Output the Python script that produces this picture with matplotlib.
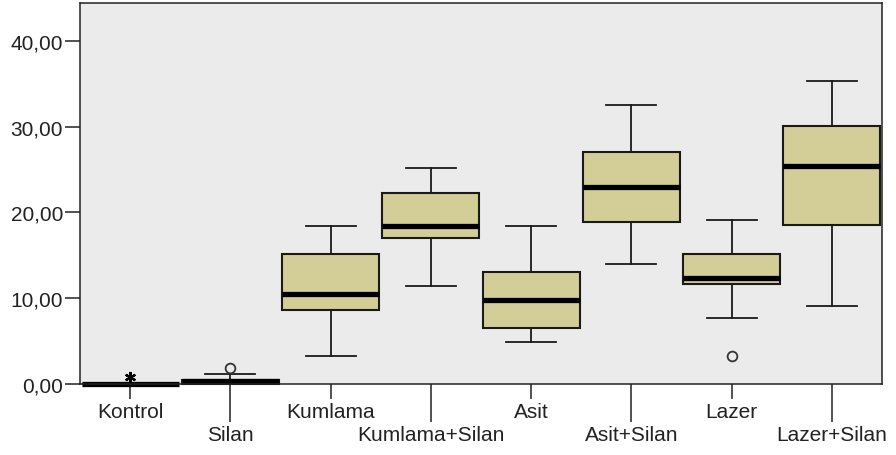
import numpy as np
import matplotlib.pyplot as plt

plt.rcParams['font.family'] = ['Liberation Sans', 'DejaVu Sans']

groups = ['Kontrol', 'Silan', 'Kumlama', 'Kumlama+Silan',
          'Asit', 'Asit+Silan', 'Lazer', 'Lazer+Silan']

# five-number summaries per group
whis_lo = [0.00, 0.00, 3.23, 11.43, 4.86, 13.99, 7.70, 9.06]
q1 = [0.00, 0.05, 8.59, 17.03, 6.49, 18.93, 11.66, 18.54]
med = [0.00, 0.30, 10.50, 18.46, 9.80, 22.94, 12.36, 25.46]
q3 = [0.00, 0.50, 15.16, 22.24, 13.06, 27.09, 15.16, 30.12]
whis_hi = [0.00, 1.17, 18.46, 25.22, 18.46, 32.50, 19.13, 35.30]

# outliers (circle) and extremes (star)
outliers = [[], [1.83], [], [], [], [], [3.30], []]
extremes = [[0.78], [], [], [], [], [], [], []]

stats = []
for i, g in enumerate(groups):
    stats.append(dict(label=g, whislo=whis_lo[i], q1=q1[i], med=med[i],
                      q3=q3[i], whishi=whis_hi[i], fliers=outliers[i]))

fig = plt.figure(figsize=(8.96, 4.56), dpi=100)
ax = fig.add_axes([80 / 896, 71 / 456, 802 / 896, 381 / 456])
ax.set_facecolor('#EBEBEB')

pos = np.arange(len(groups))
bp = ax.bxp(stats, positions=pos, widths=0.97, patch_artist=True,
            showfliers=True,
            boxprops=dict(facecolor='#D3CE97', edgecolor='#1a1a1a', linewidth=1.5),
            medianprops=dict(color='black', linewidth=3.8, solid_capstyle='butt'),
            whiskerprops=dict(color='#1a1a1a', linewidth=1.3),
            capprops=dict(color='#1a1a1a', linewidth=1.3),
            capwidths=0.5,
            flierprops=dict(marker='o', markerfacecolor='none',
                            markeredgecolor='#333333', markersize=7,
                            markeredgewidth=1.3))
for key in bp:
    for art in bp[key]:
        art.set_clip_on(False)

for i, ex in enumerate(extremes):
    if ex:
        ax.plot([pos[i]] * len(ex), ex, marker=(6, 2, 0), color='black',
                markersize=8, markeredgewidth=1.6, linestyle='none',
                clip_on=False)

ax.set_xlim(-0.5, 7.5)
ax.set_ylim(0, 44.4)

yt = [0, 10, 20, 30, 40]
ax.set_yticks(yt, labels=[f'{v:.2f}'.replace('.', ',') for v in yt])

# alternate label rows: even groups on the upper row, odd on the lower
ax.set_xticks(pos[::2], labels=groups[::2])
ax.set_xticks(pos[1::2], labels=groups[1::2], minor=True)

ax.tick_params(axis='y', length=10.8, width=1.1, pad=1.5,
               labelsize=15, labelcolor='#222222', color='#222222')
ax.tick_params(axis='x', which='major', length=10.8, width=1.1, pad=2,
               labelsize=15, labelcolor='#222222', color='#222222')
ax.tick_params(axis='x', which='minor', length=27.4, width=1.1, pad=2,
               labelsize=15, labelcolor='#222222', color='#222222')

for sp in ax.spines.values():
    sp.set_linewidth(1.1)
    sp.set_color('#222222')

fig.savefig('out.png', dpi=100)
